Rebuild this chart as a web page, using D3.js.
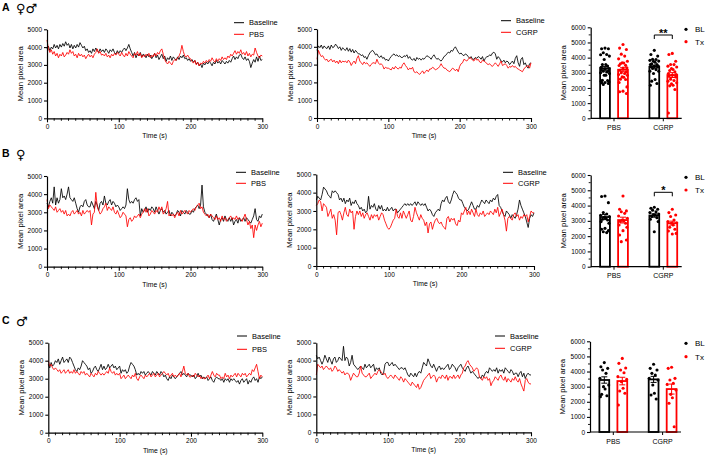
<!DOCTYPE html>
<html><head><meta charset="utf-8">
<script src="https://cdn.jsdelivr.net/npm/d3@7"></script>
<style>body{margin:0;background:#fff} svg{display:block}</style>
</head><body><svg id="c" width="708" height="457"></svg>
<script>
// ---------- DATA ----------
// time courses: one value every 2 s, 0..300 s
const xTicksTS = [0, 100, 200, 300];
const yTicksTS = [0, 1000, 2000, 3000, 4000, 5000];
const yTicksBar = [0, 1000, 2000, 3000, 4000, 5000, 6000];
const groups = ["PBS", "CGRP"];
const conds = ["BL", "Tx"];

// Panel A (both sexes)
const aBasePbs = [3900,4050,3800,4000,3900,4150,3950,4100,3900,4150,
 4000,4200,4050,4300,4100,4200,3950,4150,3900,4100,
 3950,4150,4000,4250,4100,3950,4050,3800,3900,3700,
 3800,3650,3900,3750,3950,3800,3700,3900,3750,3850,
 3700,3900,3800,3650,3850,3750,3900,3700,3600,3800,
 3650,3800,3700,3850,3950,3800,3950,4150,3900,3700,
 3500,3700,3400,3600,3500,3700,3450,3600,3550,3400,
 3600,3450,3550,3350,3500,3650,3400,3550,3300,3450,
 3600,3350,3500,3200,3400,3300,3500,3250,3450,3350,
 3250,3450,3300,3500,3400,3550,3350,3400,3250,3350,
 3200,3300,3150,3250,3050,3150,2950,3050,2850,3100,
 3000,3150,3050,3200,3100,2950,3150,3050,3250,3100,
 3200,3050,3250,3150,3050,3200,3100,3250,3150,3350,
 3500,3300,3450,3350,3550,3600,3400,3300,3450,3250,
 3350,3200,2850,3100,3300,3150,3450,3200,3500,3250,3300];
const aPbs = [4400,3900,3700,3850,3600,3750,3500,3650,3400,3600,
 3500,3700,3450,3550,3700,3600,3850,3650,3750,3500,
 3600,3400,3650,3500,3600,3450,3550,3350,3500,3600,
 3450,3550,3400,3600,3700,3900,3650,3750,3550,3600,
 3500,3650,3450,3550,3400,3600,3500,3650,3550,3700,
 3600,3500,3700,3550,3450,3650,3500,3750,3600,3500,
 3400,3650,3550,3750,3500,3650,3400,3550,3450,3600,
 3500,3650,3400,3550,3450,3650,3500,3700,3600,3800,
 3900,3600,3300,3150,3050,3200,3100,3000,3200,3300,
 3250,3400,3500,3700,4100,3750,3500,3450,3550,3400,
 3350,3200,3100,3250,3000,3150,2950,3100,3050,3200,
 3100,3250,3150,3300,3200,3400,3250,3150,3350,3200,
 3350,3250,3450,3300,3400,3300,3500,3400,3600,3500,
 3650,3800,3600,3750,3650,3850,3600,3700,3550,3750,
 3500,3650,3450,3600,3550,3950,3700,3500,3400,3550,3500];
const aBaseCgrp = [3800,4050,3950,4100,3900,4050,3950,3900,4050,3850,
 4100,3950,4000,4150,4050,3900,4000,3800,3950,3850,
 3800,3950,3750,3900,3700,3850,3650,3800,3700,3600,
 3600,3500,3550,3400,3450,3300,3500,3650,3750,3800,
 3700,3550,3600,3450,3400,3500,3350,3400,3250,3300,
 3200,3350,3450,3550,3600,3500,3550,3450,3500,3400,
 3400,3500,3450,3550,3350,3450,3300,3250,3350,3200,
 3400,3300,3350,3250,3350,3300,3400,3500,3450,3400,
 3300,3450,3550,3400,3300,3350,3250,3200,3300,3450,
 3500,3600,3700,3650,3800,3750,3900,4000,3850,3700,
 3600,3650,3550,3500,3600,3550,3450,3350,3450,3300,
 3300,3400,3350,3450,3400,3300,3450,3200,3350,3450,
 3450,3550,3500,3650,3700,3600,3300,3450,3350,3200,
 3150,3250,3100,3200,3150,3000,3100,3200,3050,3350,
 3500,3100,2900,3300,3400,3000,3100,2900,2800,3050,3100];
const aCgrp = [3300,3800,3600,3450,3500,3350,3250,3300,3150,3250,
 3300,3150,3250,3100,3200,3050,3250,3100,3200,3150,
 3200,3100,3250,3150,2950,3100,3200,3050,3350,3500,
 3200,3100,3000,3150,3050,3100,3000,2900,3000,3100,
 3100,3050,3300,3100,3000,3050,2950,2750,2850,2800,
 2800,2750,2700,2850,2750,2900,2800,2750,2850,2800,
 3000,3100,2950,2850,2700,2800,2750,2850,2600,2550,
 2600,2500,2450,2550,2650,2500,2600,2700,2600,2750,
 2750,2850,2800,2700,2750,2800,2900,3050,2900,2800,
 2800,2700,2650,2600,2700,2800,2750,2650,2750,2600,
 2900,3050,3100,3300,3250,3200,3300,3400,3350,3250,
 3200,3350,3250,3300,3150,3100,3250,3200,3150,3050,
 3000,3050,2950,2900,3000,3100,3000,2900,3050,3200,
 2950,3000,3050,2950,2800,2900,2850,2950,2850,2900,
 2800,2750,2700,2650,2600,2750,2850,2900,2950,2800,3100];

// Panel B (female)
const bBasePbs = [3500,3300,3600,3800,3500,4400,3400,3800,3500,3700,
 4300,3800,3900,3700,4000,4400,3800,3700,3600,3800,
 3500,3200,3000,3300,3400,3300,3600,3700,3400,3300,
 3300,3600,3400,3200,3600,3400,3100,3500,3600,3400,
 3900,3500,3400,3600,3700,3400,3600,3500,3300,3400,
 3300,3100,3200,3300,3200,3400,4300,3700,3500,3600,
 3500,3700,3800,3600,3700,2800,3200,3000,3100,3300,
 3000,3200,3100,3300,3200,3000,3300,3100,2900,3100,
 3200,3000,3100,2900,3000,3100,2800,3000,2900,2800,
 2900,3100,3000,2800,3100,3000,2900,3100,3000,2900,
 2900,3100,3000,3200,3300,3400,3200,3400,4500,3300,
 3000,2900,2800,2700,2900,2600,2500,2700,2900,2600,
 2300,2600,2700,2500,2800,2600,2500,2700,2500,2700,
 2300,2500,2600,2400,2700,2500,2600,2700,2500,2700,
 2600,2500,2400,2600,2800,3200,2600,2500,2800,2700,2900];
const bPbs = [3700,3200,3400,3300,3200,3100,3300,3000,3100,3200,
 3000,3100,2900,3100,2800,2900,2800,3000,3100,2900,
 3000,3100,2900,3000,2800,3100,2900,3000,3100,3000,
 3100,2300,2900,3000,4100,3300,3100,2900,3000,3200,
 3300,3500,3100,3300,3200,3100,3300,3000,2900,3100,
 2900,2700,2800,3000,2900,2800,2200,2600,2700,2500,
 2600,2800,2700,2800,2900,2700,2900,3000,3200,3000,
 3200,2800,2900,3100,3000,2900,3100,3000,3300,3100,
 3300,2900,3000,3200,3600,2800,2900,2800,2900,2700,
 2900,3000,2800,3100,2900,3000,3100,3000,2900,3100,
 3000,3100,3200,3100,3300,3400,3500,3200,3300,3000,
 2900,2800,2900,2700,2900,2800,2700,2600,2800,2600,
 2700,2500,2800,2600,2700,2500,2600,2700,2800,2600,
 2700,2600,2800,2600,2700,2600,2500,2700,2900,2600,
 2300,2500,2100,2300,1600,2300,2000,2300,2500,2200,2400];
const bBaseCgrp = [3600,3800,3700,3600,3900,4300,4200,4100,3900,3800,
 3700,4100,4000,4100,4000,3900,3600,3700,3500,3700,
 3400,3600,3500,3700,3300,3500,3400,3600,3400,3300,
 3100,3200,3000,3100,2900,3000,3800,3100,3300,3200,
 3400,3100,3000,3300,3100,3300,3000,3100,3000,3200,
 3000,3100,3200,3000,3100,3100,2900,3000,3100,3200,
 3300,3400,3300,3400,3300,3400,3300,3400,3500,3300,
 3500,3400,3300,3400,3300,3400,3200,3000,3100,3000,
 2800,2700,2900,3000,3100,3000,3400,3600,3500,3700,
 3800,3500,3400,3600,3900,4100,4000,3900,3700,3600,
 3600,3400,3200,3100,3000,3100,3300,3500,3300,3100,
 3100,3300,3200,3400,3600,3500,3400,3600,3500,3400,
 3600,3500,3700,3600,3800,3900,3300,3200,3000,2800,
 2700,3000,2900,2800,2600,2800,2700,2600,2800,3100,
 3600,3300,3100,2900,2700,2400,2100,2600,2800,2700,2900];
const bCgrp = [3300,3400,3600,3500,3000,3400,3300,3200,2700,2900,
 3100,2600,2800,2500,1700,2900,3000,2800,2500,2900,
 3200,2800,2700,3100,2900,3000,2000,2700,3000,2800,
 3000,2700,2900,2600,2800,2900,2700,2500,2800,2600,
 2800,2700,2800,2500,2700,2900,2800,2500,2300,2100,
 2000,2100,2300,2500,2600,3100,2700,2600,2900,2600,
 3000,2800,2600,2800,3000,2500,2400,2700,3200,2900,
 2700,2500,2800,2600,2500,2200,2400,1800,2300,2400,
 2000,2300,2500,2600,2400,2300,2400,2200,2100,2000,
 2600,2700,2400,2600,2500,2600,2300,2200,2500,2400,
 2900,2800,3000,3200,2800,3000,2800,3100,2900,2700,
 3100,2800,2700,2900,2800,3000,2700,2800,2900,2800,
 3000,2900,2800,3100,2900,3200,2700,2900,3100,2800,
 2500,1900,2600,2700,2600,2500,2800,2900,2700,2800,
 2500,2700,2600,2800,2700,2800,2400,2700,3000,2900,2900];

// Panel C (male)
const cBasePbs = [3800,3600,3900,3700,3800,4000,3900,4100,3800,4000,
 4200,3900,4000,4100,3900,4200,4100,3900,3700,3500,
 3400,3600,3500,3700,4000,3900,3800,3700,3500,3600,
 3300,3400,3600,3700,3500,3400,3600,3800,3500,3700,
 3500,3600,3800,3600,3700,3800,3600,3700,3500,3600,
 3700,3300,3500,3400,3500,3300,3400,3700,3900,3800,
 3700,3500,3200,3300,3200,3400,3300,3400,3200,3300,
 3400,3300,3200,3400,3300,3200,3400,3300,3200,3400,
 3300,3100,3200,3000,2900,3100,3000,3200,3100,3000,
 3100,3200,3300,3400,3200,3300,3200,3100,3300,3200,
 3200,3100,3200,3000,3100,3300,3100,3200,3000,3100,
 3000,3100,2900,3000,3100,2900,2800,3000,3100,3000,
 3000,2900,3000,2800,3000,2900,3000,2800,3000,2900,
 3000,2900,2800,2900,2700,2900,3000,2800,2900,3000,
 2700,2900,2800,3000,3100,2900,3000,2800,3100,3000,3100];
const cPbs = [4000,3700,3800,3600,3500,3600,3500,3400,3500,3300,
 3400,3500,3300,3400,3500,3300,3400,3300,3500,3300,
 3400,3300,3200,3400,3300,3400,3200,3300,3200,3100,
 3300,3200,3100,3300,3200,3400,3300,3200,3300,3200,
 3300,3400,3300,3600,3400,3300,3400,3200,3300,3200,
 3300,3000,3100,3200,3000,3100,3200,3100,3000,3200,
 3100,3300,3000,2900,3100,3200,3100,3000,3200,3100,
 3200,3300,3100,3200,3300,3100,3200,3300,3100,3200,
 3300,3400,3300,3200,3300,3100,3200,3300,3100,3200,
 3100,3200,3300,3100,3400,3700,3300,3200,3300,3100,
 3100,3200,3100,3300,3200,3100,3200,3000,3100,3000,
 3000,3100,3200,3000,3200,3400,3200,3100,3300,3200,
 3200,3000,3100,3000,3300,3100,3200,3000,3200,3100,
 3200,3300,3100,3300,3200,3100,3300,3200,3300,3100,
 3200,3300,3200,3500,3400,3600,3800,3400,3000,3200,3100];
const cBaseCgrp = [4300,4100,4200,4000,3800,4000,4300,4100,3900,4200,
 4000,3800,4100,4200,3900,4000,4200,4100,4000,4800,
 4000,4200,4100,3700,3900,4300,3800,3700,3600,3500,
 3600,3700,3600,3500,3800,3600,3700,3800,3600,3700,
 3800,3400,3600,3500,3600,3300,3200,3300,3800,3900,
 3900,3700,3800,3900,3700,3800,3700,3600,3500,3600,
 3600,3500,3600,3400,3200,3100,3300,3200,3100,3300,
 3100,3300,3400,3300,3600,3900,3800,3700,4100,3900,
 3700,3600,3800,3600,3400,3600,3700,3500,3600,3500,
 3600,3700,3800,3500,3600,3800,3700,3600,3400,3600,
 3700,3800,3600,3500,3400,3600,3700,3500,3300,3400,
 3300,3200,3100,3000,3100,3000,3200,3100,3300,3400,
 3300,3600,3500,3400,3500,3400,3600,3300,3500,3400,
 3500,3300,3600,3500,3400,3300,3500,3400,3200,3300,
 3300,3100,3300,3400,3100,3300,3000,3200,3300,3200,3200];
const cCgrp = [3200,3800,3700,3600,3700,3500,3600,3700,3600,3500,
 3600,3400,3500,3700,3600,3400,3500,3400,3300,3400,
 3200,3300,3300,3200,2900,3100,3300,3200,3100,3100,
 3300,3700,3300,3200,3100,3100,3200,3300,3000,3100,
 3200,3300,3200,3400,3500,3400,3300,3200,3300,3100,
 3000,3100,3200,3100,3000,3200,3100,3000,2900,3100,
 3000,2800,3000,2900,2800,2700,2600,2800,2700,2600,
 2500,2700,2400,2500,2700,2900,3000,3100,3200,3300,
 3000,3100,3200,3100,2800,3000,3100,3000,3200,3100,
 3000,3200,2900,3100,3100,3000,3200,3000,3100,3200,
 3000,3200,3300,3600,3700,3900,4000,3800,3700,3600,
 3400,3500,3600,3500,3100,3000,2900,3100,3000,3100,
 2900,3000,2600,2800,2900,3100,3000,2900,3100,3200,
 3000,2900,3100,2800,3000,2900,2800,3000,2900,3100,
 2900,2800,3000,2700,2500,2300,2900,3000,2800,2700,2700];

// Bar panels: individual animals (order PBS-BL, PBS-Tx, CGRP-BL, CGRP-Tx)
const bDots = [
 [4630,4590,4190,3540,3450,3360,3280,3230,3170,3100,3060,2950,2840,2510,2450,2360,2290,2230],
 [4630,3760,3650,3600,3490,3320,3170,3060,3010,2950,2840,2730,2580,2360,2070,1750,1640],
 [3890,3820,3760,3700,3600,3540,3450,3400,3380,3280,3210,3100,2950,2290],
 [3760,3540,3380,3280,3060,2950,2880,2840,2730,2580,2450,2340,2180,2140]];
const cDots = [
 [4590,4320,4210,4100,3880,3550,3110,3000,2840,2490,2400,2340],
 [4870,4540,4230,4100,3920,3660,3480,3330,2890,2710,2560,1790],
 [4480,4210,4100,3880,3770,3550,3440,3110,2560,2450,2180],
 [4280,4210,3550,3440,3220,3150,2780,2490,2270,1900,350]];
const aDots = bDots.map((d, i) => d.concat(cDots[i])); // pooled sexes
const aMeans = [3300, 3200, 3400, 2850], aSem = [120, 130, 100, 160];
const bMeans = [3250, 3050, 3350, 2850], bSem = [170, 190, 110, 130];
const cMeans = [3440, 3370, 3480, 2840], cSem = [210, 250, 200, 330];

// ---------- DRAW ----------
const svg = d3.select('#c');
const RED = '#ff0000';
const FONT = '"Liberation Sans", Arial, Helvetica, sans-serif';
const AXW = 1.2;

function styleAxis(g, fs) {
  g.select('.domain').attr('stroke-width', AXW).attr('stroke', '#000');
  g.selectAll('.tick line').attr('stroke-width', AXW * 0.9);
  g.selectAll('.tick text').attr('font-family', FONT).attr('font-size', fs).attr('fill', '#000');
}

function timePanel(c) {
  const x = d3.scaleLinear().domain([0, 300]).range([c.x0, c.x1]);
  const y = d3.scaleLinear().domain([0, 5000]).range([c.yBot, c.yTop]);
  const g = svg.append('g');
  const line = d3.line().x((d, i, arr) => x(i * 300 / (arr.length - 1))).y(d => y(d));
  g.append('path').datum(c.base).attr('d', line).attr('fill', 'none').attr('stroke', '#000').attr('stroke-width', 0.85);
  g.append('path').datum(c.treat).attr('d', line).attr('fill', 'none').attr('stroke', RED).attr('stroke-width', 0.85);
  const ya = g.append('g').attr('transform', `translate(${c.x0},0)`)
    .call(d3.axisLeft(y).tickValues(yTicksTS).tickSize(3).tickSizeOuter(0).tickPadding(2).tickFormat(d3.format('d')));
  styleAxis(ya, 6.5);
  const xa = g.append('g').attr('transform', `translate(0,${c.yBot})`)
    .call(d3.axisBottom(x).tickValues(xTicksTS).tickSize(4).tickSizeOuter(0).tickPadding(2));
  styleAxis(xa, 6.5);
  const minor = d3.range(10, 300, 10).filter(v => v % 100 !== 0);
  g.selectAll('.mx').data(minor).join('line')
    .attr('x1', d => x(d)).attr('x2', d => x(d)).attr('y1', c.yBot).attr('y2', c.yBot + 2.5)
    .attr('stroke', '#000').attr('stroke-width', 0.9);
  g.append('text').attr('x', (c.x0 + c.x1) / 2).attr('y', c.yBot + 20).attr('text-anchor', 'middle')
    .attr('font-family', FONT).attr('font-size', 6.8).attr('fill', '#000').text('Time (s)');
  g.append('text').attr('transform', `translate(${c.x0 - 24},${(c.yTop + c.yBot) / 2}) rotate(-90)`)
    .attr('text-anchor', 'middle').attr('font-family', FONT).attr('font-size', 7.8).text('Mean pixel area');
  const lg = [['Baseline', '#000', c.ly1], [c.name, RED, c.ly2]];
  lg.forEach(([t, col, ly]) => {
    g.append('line').attr('x1', c.lx).attr('x2', c.lx + 10).attr('y1', ly).attr('y2', ly).attr('stroke', col).attr('stroke-width', 1);
    g.append('text').attr('x', c.lx + 15).attr('y', ly).attr('dy', '0.35em').attr('font-family', FONT)
      .attr('font-size', 7.5).text(t);
  });
}

const jit = [0, -3.4, 3.4, -1.7, 1.7, -4.4, 4.4, -0.8, 0.8, -2.6, 2.6, -3.9, 3.9];
function barPanel(c) {
  const y = d3.scaleLinear().domain([0, 6000]).range([c.yBot, c.yTop]);
  const xg = d3.scalePoint().domain(groups).range([c.x0 + 23.3, c.x0 + 72.6]);
  const sub = d3.scalePoint().domain(conds).range([-9, 9]);
  const g = svg.append('g');
  const bw = 9.8;
  groups.forEach((gr, gi) => conds.forEach((cd, ci) => {
    const k = gi * 2 + ci, cx = xg(gr) + sub(cd), col = ci ? RED : '#000';
    const m = c.means[k], s = c.sem[k];
    g.append('rect').attr('x', cx - bw / 2).attr('width', bw).attr('y', y(m)).attr('height', c.yBot - y(m))
      .attr('fill', 'none').attr('stroke', col).attr('stroke-width', 1.8);
    const sorted = c.dots[k].slice().sort((a, b) => b - a);
    g.selectAll(null).data(sorted).join('circle')
      .attr('cx', (d, i) => cx + jit[i % jit.length]).attr('cy', d => y(d)).attr('r', 1.55).attr('fill', col);
    g.append('line').attr('x1', cx).attr('x2', cx).attr('y1', y(m - s)).attr('y2', y(m + s)).attr('stroke', col).attr('stroke-width', 1);
    [m - s, m + s].forEach(v => g.append('line').attr('x1', cx - 3).attr('x2', cx + 3).attr('y1', y(v)).attr('y2', y(v))
      .attr('stroke', col).attr('stroke-width', 1));
  }));
  const ya = g.append('g').attr('transform', `translate(${c.x0},0)`)
    .call(d3.axisLeft(y).tickValues(yTicksBar).tickSize(3).tickSizeOuter(0).tickPadding(2).tickFormat(d3.format('d')));
  styleAxis(ya, 6.5);
  const minor = d3.range(500, 6000, 1000);
  g.selectAll('.my').data(minor).join('line').attr('x1', c.x0).attr('x2', c.x0 - 2)
    .attr('y1', d => y(d)).attr('y2', d => y(d)).attr('stroke', '#000').attr('stroke-width', 0.9);
  g.append('line').attr('x1', c.x0).attr('x2', c.x0 + 91).attr('y1', c.yBot).attr('y2', c.yBot).attr('stroke', '#000').attr('stroke-width', AXW);
  groups.forEach(gr => {
    g.append('line').attr('x1', xg(gr)).attr('x2', xg(gr)).attr('y1', c.yBot).attr('y2', c.yBot + 3).attr('stroke', '#000').attr('stroke-width', 1);
    g.append('text').attr('x', xg(gr)).attr('y', c.yBot + 11.5).attr('text-anchor', 'middle')
      .attr('font-family', FONT).attr('font-size', 7).text(gr);
  });
  g.append('text').attr('transform', `translate(${c.x0 - 25},${(c.yTop + c.yBot) / 2}) rotate(-90)`)
    .attr('text-anchor', 'middle').attr('font-family', FONT).attr('font-size', 7.8).text('Mean pixel area');
  [['BL', '#000', c.ly1], ['Tx', RED, c.ly2]].forEach(([t, col, ly]) => {
    g.append('circle').attr('cx', 686).attr('cy', ly).attr('r', 1.6).attr('fill', col);
    g.append('text').attr('x', 695).attr('y', ly).attr('dy', '0.35em').attr('font-family', FONT).attr('font-size', 8).text(t);
  });
  if (c.sig) {
    const x1 = xg('CGRP') - 9, x2 = xg('CGRP') + 9;
    g.append('path').attr('d', `M${x1},${c.sigY + 4}V${c.sigY}H${x2}V${c.sigY + 4}`).attr('fill', 'none')
      .attr('stroke', '#000').attr('stroke-width', 1);
    g.append('text').attr('x', xg('CGRP')).attr('y', c.sigY + 1.5).attr('text-anchor', 'middle')
      .attr('font-family', FONT).attr('font-weight', 'bold').attr('font-size', 11).text(c.sig);
  }
}

// panel A
timePanel({x0: 47, x1: 262.3, yTop: 29.3, yBot: 118.3, base: aBasePbs, treat: aPbs, name: 'PBS', lx: 234, ly1: 22.7, ly2: 34.3});
timePanel({x0: 317, x1: 531, yTop: 29, yBot: 118, base: aBaseCgrp, treat: aCgrp, name: 'CGRP', lx: 501, ly1: 20.7, ly2: 32.3});
barPanel({x0: 590.7, yTop: 27.3, yBot: 118.3, dots: aDots, means: aMeans, sem: aSem, ly1: 29.3, ly2: 41.7, sig: '**', sigY: 35});
// panel B
timePanel({x0: 47, x1: 262.3, yTop: 176, yBot: 266.7, base: bBasePbs, treat: bPbs, name: 'PBS', lx: 236, ly1: 172.3, ly2: 183.3});
timePanel({x0: 316.3, x1: 534, yTop: 174.3, yBot: 266, base: bBaseCgrp, treat: bCgrp, name: 'CGRP', lx: 503, ly1: 172.3, ly2: 183.3});
barPanel({x0: 590.7, yTop: 175, yBot: 266.7, dots: bDots, means: bMeans, sem: bSem, ly1: 177.3, ly2: 190, sig: '*', sigY: 192.3});
// panel C
timePanel({x0: 48.3, x1: 262.3, yTop: 342.7, yBot: 432.7, base: cBasePbs, treat: cPbs, name: 'PBS', lx: 237, ly1: 336, ly2: 349.3});
timePanel({x0: 316.3, x1: 531, yTop: 342.7, yBot: 432.3, base: cBaseCgrp, treat: cCgrp, name: 'CGRP', lx: 495, ly1: 336, ly2: 348.3});
barPanel({x0: 590, yTop: 341.3, yBot: 432, dots: cDots, means: cMeans, sem: cSem, ly1: 343.3, ly2: 356.7, sig: null});

// panel letters
[['A', '♀♂', 11], ['B', '♀', 156.5], ['C', '♂', 324]].forEach(([l, s, by]) => {
  svg.append('text').attr('x', 2).attr('y', by).attr('font-family', FONT).attr('font-weight', 'bold').attr('font-size', 10.5).text(l);
  svg.append('text').attr('x', 16).attr('y', by + 2).attr('font-family', '"DejaVu Sans", sans-serif').attr('font-size', 13).text(s);
});
</script></body></html>
